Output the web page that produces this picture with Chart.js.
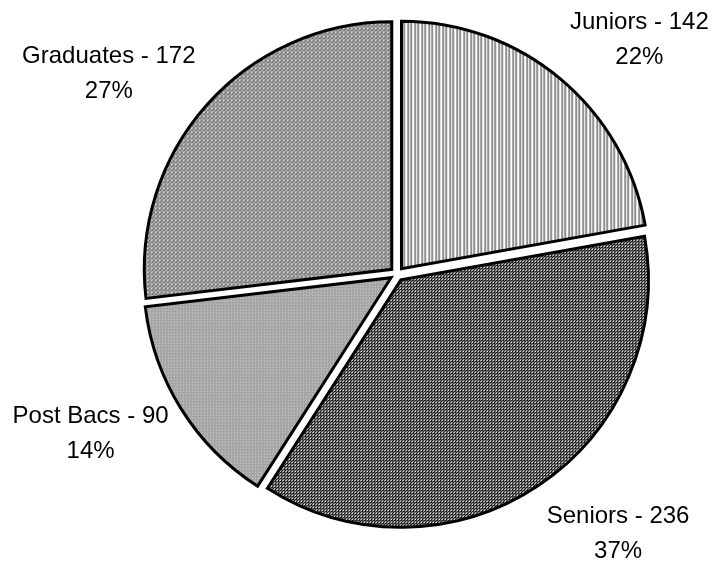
<!DOCTYPE html>
<html>
<head>
<meta charset="utf-8">
<script src="https://cdn.jsdelivr.net/npm/chart.js@4/dist/chart.umd.min.js"></script>
<style>
  html, body { margin: 0; padding: 0; background: #fff; }
  canvas { display: block; }
</style>
</head>
<body>
<canvas id="c" width="716" height="562"></canvas>
<script>
// ---- data ----
const categories = ["Juniors", "Seniors", "Post Bacs", "Graduates"];
const counts = [142, 236, 90, 172];

// ---- fill patterns (style only) ----
function makePattern(rows) {
  const h = rows.length, w = rows[0].length;
  const c = document.createElement('canvas');
  c.width = w; c.height = h;
  const g = c.getContext('2d');
  for (let y = 0; y < h; y++) for (let x = 0; x < w; x++) {
    g.fillStyle = rows[y][x];
    g.fillRect(x, y, 1, 1);
  }
  return document.getElementById('c').getContext('2d').createPattern(c, 'repeat');
}
const K = '#111', W = '#fff';
const patJuniors = makePattern([
  ['#555', '#c8c8c8', W, W, '#555', '#c8c8c8', W]
]);
const patSeniors = makePattern([
  [W, K, '#888'],
  [K, K, '#888'],
  ['#888', '#888', K]
]);
const patPostBacs = makePattern([
  ['#d6d6d6', '#a8a8a8', '#a0a0a0'],
  ['#a8a8a8', '#9a9a9a', '#a8a8a8'],
  ['#a0a0a0', '#a8a8a8', '#b4b4b4']
]);
const patGraduates = makePattern([
  ['#e0e0e0', '#d8d8d8', '#999', '#707070'],
  ['#d8d8d8', '#b8b8b8', '#707070', '#707070'],
  ['#999', '#707070', '#999', '#a0a0a0'],
  ['#707070', '#707070', '#a0a0a0', '#b8b8b8']
]);

const EXPLODE = 7;

// draw arcs pulled out from the centre (exploded pie)
const explodePlugin = {
  id: 'explode',
  beforeDatasetDraw(chart, args) {
    const ctx = chart.ctx;
    args.meta.data.forEach(arc => {
      const mid = (arc.startAngle + arc.endAngle) / 2;
      ctx.save();
      ctx.translate(Math.cos(mid) * EXPLODE, Math.sin(mid) * EXPLODE);
      arc.draw(ctx, chart.chartArea);
      ctx.restore();
    });
    return false;
  }
};

// outside labels: "Name - value" / "pct%"
const labelPlugin = {
  id: 'outLabels',
  afterDatasetsDraw(chart) {
    const ctx = chart.ctx;
    const meta = chart.getDatasetMeta(0);
    const total = counts.reduce((a, b) => a + b, 0);
    ctx.save();
    ctx.font = '24px "Liberation Sans", Arial, sans-serif';
    ctx.fillStyle = '#000';
    ctx.textAlign = 'center';
    ctx.textBaseline = 'alphabetic';
    const capH = 17, lineGap = 35;
    meta.data.forEach((arc, i) => {
      const mid = (arc.startAngle + arc.endAngle) / 2;
      const D = arc.outerRadius + EXPLODE + 15;
      const ax = arc.x + Math.cos(mid) * D;
      const ay = arc.y + Math.sin(mid) * D;
      const l1 = categories[i] + ' - ' + counts[i];
      const l2 = Math.round(counts[i] / total * 100) + '%';
      const w = Math.max(ctx.measureText(l1).width, ctx.measureText(l2).width);
      const h = capH + lineGap;
      const f = 0.846 - 1.2 * Math.abs(Math.sin(mid));
      const left = Math.cos(mid) >= 0 ? ax : ax - w;
      const top = Math.sin(mid) < 0 ? ay - h + h * f : ay - h * f;
      const cx = left + w / 2;
      ctx.fillText(l1, cx, top + capH);
      ctx.fillText(l2, cx, top + capH + lineGap);
    });
    ctx.restore();
  }
};

new Chart(document.getElementById('c'), {
  type: 'pie',
  data: {
    labels: categories,
    datasets: [{
      data: counts,
      backgroundColor: [patJuniors, patSeniors, patPostBacs, patGraduates],
      borderColor: '#000',
      borderWidth: 3,
      borderJoinStyle: 'miter',
      hoverOffset: 0
    }]
  },
  options: {
    responsive: false,
    animation: false,
    layout: { padding: { left: 78, right: 0, top: 25, bottom: 39 } },
    plugins: {
      legend: { display: false },
      tooltip: { enabled: false }
    }
  },
  plugins: [explodePlugin, labelPlugin]
});
</script>
</body>
</html>
